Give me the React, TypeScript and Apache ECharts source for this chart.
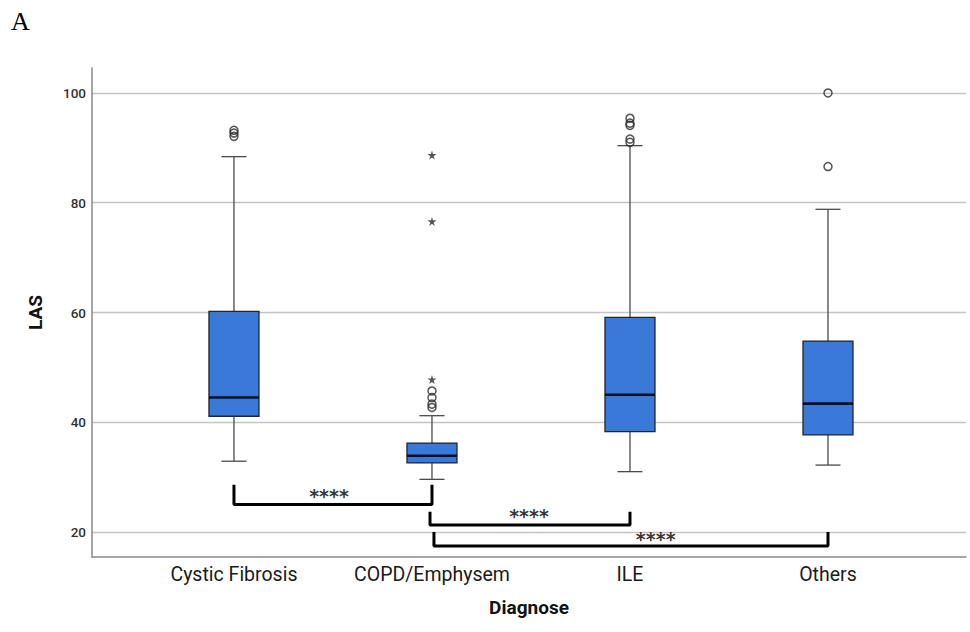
import React, { useEffect, useRef } from "react";
import * as echarts from "echarts";

const categories = ["Cystic Fibrosis", "COPD/Emphysem", "ILE", "Others"];
const lowerWhisker = [32.9, 29.6, 31.0, 32.2];
const q1 = [41.1, 32.6, 38.3, 37.7];
const median = [44.5, 33.9, 45.0, 43.4];
const q3 = [60.2, 36.2, 59.1, 54.8];
const upperWhisker = [88.4, 41.2, 90.4, 78.8];
const outliers: [number, number][] = [
  [0, 93.2], [0, 92.7], [0, 92.1],
  [1, 45.7], [1, 44.5], [1, 43.3], [1, 42.7],
  [2, 95.4], [2, 94.5], [2, 94.1], [2, 91.6], [2, 91.0],
  [3, 100.0], [3, 86.6],
];
const extremes: [number, number][] = [[1, 88.7], [1, 76.6], [1, 47.8]];
const yTicks = [20, 40, 60, 80, 100];
// significance brackets: from category, to category, top of legs, bar level
const bracketFrom = [0, 0.99, 1.01];
const bracketTo = [1, 2, 3];
const bracketTop = [28.6, 23.7, 20.0];
const bracketBar = [25.0, 21.3, 17.45];
const bracketLabel = ["****", "****", "****"];
const bracketLabelX = [0.48, 1.49, 2.13];
const bracketLabelY = [27.1, 23.5, 19.3];

const STAR = "path://M50,0 L61,35 L98,35 L68,57 L79,91 L50,70 L21,91 L32,57 L2,35 L39,35 Z";

export default function App() {
  const ref = useRef<HTMLDivElement>(null);
  useEffect(() => {
    if (!ref.current) return;
    const chart = echarts.init(ref.current, undefined, { renderer: "svg" });
    const boxData = categories.map((_, i) => [i, lowerWhisker[i], q1[i], median[i], q3[i], upperWhisker[i]]);
    const bracketSeries = bracketFrom.map((f, i) => ({
      type: "line",
      data: [[f, bracketTop[i]], [f, bracketBar[i]], [bracketTo[i], bracketBar[i]], [bracketTo[i], bracketTop[i]]],
      symbol: "none",
      silent: true,
      lineStyle: { color: "#000", width: 3 },
      z: 5,
    }));
    chart.setOption({
      animation: false,
      backgroundColor: "#fff",
      grid: { left: 92, right: 4, top: 68, bottom: 75 },
      title: {
        text: "A",
        left: 11,
        top: 8,
        padding: 0,
        textStyle: { fontFamily: "Liberation Serif", fontSize: 26, fontWeight: "normal", color: "#000" },
      },
      xAxis: {
        type: "value",
        min: -0.717,
        max: 3.697,
        name: "Diagnose",
        nameLocation: "middle",
        nameGap: 41,
        nameTextStyle: { fontFamily: "Roboto", fontSize: 19, fontWeight: "bold", color: "#111" },
        axisLine: { show: true, onZero: false, lineStyle: { color: "#8a8a8a", width: 1.5 } },
        axisTick: { show: false },
        splitLine: { show: false },
        axisLabel: {
          customValues: [0, 1, 2, 3],
          formatter: (v: number) => categories[Math.round(v)] ?? "",
          fontFamily: "Roboto",
          fontSize: 19.5,
          color: "#1a1a1a",
          margin: 7,
        },
      },
      yAxis: {
        type: "value",
        min: 15.45,
        max: 104.55,
        name: "LAS",
        nameLocation: "middle",
        nameGap: 47,
        nameTextStyle: { fontFamily: "Roboto", fontSize: 19, fontWeight: "bold", color: "#111" },
        axisLine: { show: true, onZero: false, lineStyle: { color: "#8a8a8a", width: 1.5 } },
        axisTick: { show: false, customValues: yTicks },
        splitLine: { show: true, lineStyle: { color: "#c4c4c4", width: 1.3 } },
        axisLabel: {
          customValues: yTicks,
          fontFamily: "Roboto",
          fontSize: 13.5,
          fontWeight: 500,
          color: "#333",
          margin: 6,
        },
      },
      series: [
        {
          type: "custom",
          data: boxData,
          encode: { x: 0, y: [1, 2, 3, 4, 5] },
          z: 3,
          renderItem: (params: any, api: any) => {
            const x = api.value(0);
            const lo = api.coord([x, api.value(1)]);
            const a = api.coord([x, api.value(2)]);
            const m = api.coord([x, api.value(3)]);
            const b = api.coord([x, api.value(4)]);
            const hi = api.coord([x, api.value(5)]);
            const bw = 50;
            const cw = 25;
            const ws = { stroke: "#4a4a4a", lineWidth: 1.3 };
            return {
              type: "group",
              children: [
                { type: "line", shape: { x1: lo[0], y1: lo[1], x2: lo[0], y2: a[1] }, style: ws },
                { type: "line", shape: { x1: hi[0], y1: b[1], x2: hi[0], y2: hi[1] }, style: ws },
                { type: "line", shape: { x1: lo[0] - cw / 2, y1: lo[1], x2: lo[0] + cw / 2, y2: lo[1] }, style: ws },
                { type: "line", shape: { x1: hi[0] - cw / 2, y1: hi[1], x2: hi[0] + cw / 2, y2: hi[1] }, style: ws },
                {
                  type: "rect",
                  shape: { x: b[0] - bw / 2, y: b[1], width: bw, height: a[1] - b[1] },
                  style: { fill: "#3a79d8", stroke: "#1d2633", lineWidth: 1.3 },
                },
                {
                  type: "line",
                  shape: { x1: m[0] - bw / 2, y1: m[1], x2: m[0] + bw / 2, y2: m[1] },
                  style: { stroke: "#0a0f1e", lineWidth: 2.6 },
                },
              ],
            };
          },
        },
        {
          type: "scatter",
          data: outliers,
          symbol: "circle",
          symbolSize: 8,
          itemStyle: { color: "rgba(255,255,255,0)", borderColor: "#2a2a2a", borderWidth: 1.5 },
          z: 4,
        },
        {
          type: "scatter",
          data: extremes,
          symbol: STAR,
          symbolSize: 9,
          itemStyle: { color: "#2a2a2a" },
          z: 4,
        },
        ...bracketSeries,
        {
          type: "scatter",
          data: bracketLabelX.map((x, i) => [x, bracketLabelY[i], bracketLabel[i]]),
          symbolSize: 1,
          itemStyle: { color: "rgba(0,0,0,0)" },
          label: {
            show: true,
            position: "inside",
            formatter: (p: any) => p.value[2],
            fontFamily: "DejaVu Sans",
            fontWeight: "bold",
            fontSize: 19,
            color: "#000",
            offset: [0, 3],
          },
          z: 6,
        },
      ],
    });
    return () => chart.dispose();
  }, []);
  return <div ref={ref} style={{ position: "absolute", left: 0, top: 0, width: 970, height: 632 }} />;
}
